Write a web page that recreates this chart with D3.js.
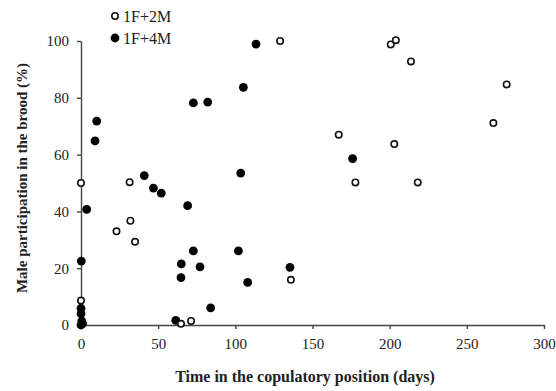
<!DOCTYPE html>
<html>
<head>
<meta charset="utf-8">
<script src="https://cdn.jsdelivr.net/npm/d3@7"></script>
<style>
  body { margin: 0; background: #fff; }
  svg text { font-family: "Liberation Serif", "Times New Roman", serif; fill: #222; }
</style>
</head>
<body>
<script>
// 1F+2M (open circles): [days, % male participation]
const pair2M = [
  [0, 50], [0, 8.6], [23, 33], [31.5, 50.3], [32, 36.7], [35, 29.3],
  [64.8, 0.4], [71.3, 1.4], [129, 100], [136, 15.9], [167, 67], [177.8, 50.2],
  [200.7, 98.8], [204, 100.3], [213.8, 92.8], [203, 63.7], [218.2, 50.2],
  [267.2, 71.1], [275.8, 84.7]
]
// 1F+4M (filled circles)
const pair4M = [
  [10.2, 71.8], [9.1, 64.8], [41, 52.6], [46.9, 48.2], [52, 46.4], [72.8, 78.2],
  [82.1, 78.5], [105.2, 83.7], [113.4, 98.9], [103.5, 53.5], [3.7, 40.7],
  [69.1, 42], [0.2, 22.5], [72.8, 26.1], [65, 21.5], [77.1, 20.5], [64.8, 16.7],
  [102, 26.1], [108, 15], [84, 6], [61.4, 1.6], [0, 5.9], [0, 4.0], [0.5, 1.4],
  [0, 0], [1, 0.5], [135.4, 20.3], [176, 58.6]
]
const xTicks = [0, 50, 100, 150, 200, 250, 300]
const yTicks = [0, 20, 40, 60, 80, 100]

const margin = {top: 41, left: 81, right: 12, bottom: 66}
const W = 556, H = 391
const width = W - margin.left - margin.right
const height = H - margin.top - margin.bottom

const svg = d3.select("body").append("svg")
    .attr("width", W)
    .attr("height", H)
const g = svg.append("g")
    .attr("transform", "translate(" + margin.left + "," + margin.top + ")")

const x = d3.scaleLinear().domain([0, 300]).range([0, width])
const y = d3.scaleLinear().domain([0, 100]).range([height, 0])

const xAxis = g.append("g")
    .attr("transform", "translate(0," + height + ")")
    .call(d3.axisBottom(x).tickValues(xTicks).tickSize(4).tickSizeOuter(0).tickPadding(9))
const yAxis = g.append("g")
    .call(d3.axisLeft(y).tickValues(yTicks).tickSize(4).tickSizeOuter(0).tickPadding(8))

;[xAxis, yAxis].forEach(function(a) {
  a.selectAll("path, line").attr("stroke", "#444").attr("stroke-width", 1.4)
  a.selectAll("text").attr("font-size", 15).attr("font-family", "Liberation Serif").attr("fill", "#222")
})

g.append("g").selectAll("circle")
  .data(pair4M)
  .enter().append("circle")
    .attr("cx", function(d) { return x(d[0]) })
    .attr("cy", function(d) { return y(d[1]) })
    .attr("r", 4.4)
    .attr("fill", "#000")

g.append("g").selectAll("circle")
  .data(pair2M)
  .enter().append("circle")
    .attr("cx", function(d) { return x(d[0]) })
    .attr("cy", function(d) { return y(d[1]) })
    .attr("r", 3.2)
    .attr("fill", "#fff")
    .attr("stroke", "#111")
    .attr("stroke-width", 1.6)

// legend
const legend = svg.append("g")
legend.append("circle").attr("cx", 115).attr("cy", 16).attr("r", 3.2)
    .attr("fill", "#fff").attr("stroke", "#111").attr("stroke-width", 1.6)
legend.append("text").attr("x", 123).attr("y", 22).attr("font-size", 16).text("1F+2M")
legend.append("circle").attr("cx", 115).attr("cy", 38).attr("r", 4.4).attr("fill", "#000")
legend.append("text").attr("x", 123).attr("y", 44).attr("font-size", 16).text("1F+4M")

// axis titles
svg.append("text")
    .attr("x", 305)
    .attr("y", 382)
    .attr("text-anchor", "middle")
    .attr("font-size", 16)
    .attr("font-weight", "bold")
    .text("Time in the copulatory position (days)")

svg.append("text")
    .attr("transform", "translate(27," + 178 + ") rotate(-90)")
    .attr("text-anchor", "middle")
    .attr("font-size", 15)
    .attr("font-weight", "bold")
    .text("Male participation in the brood (%)")
</script>
</body>
</html>
